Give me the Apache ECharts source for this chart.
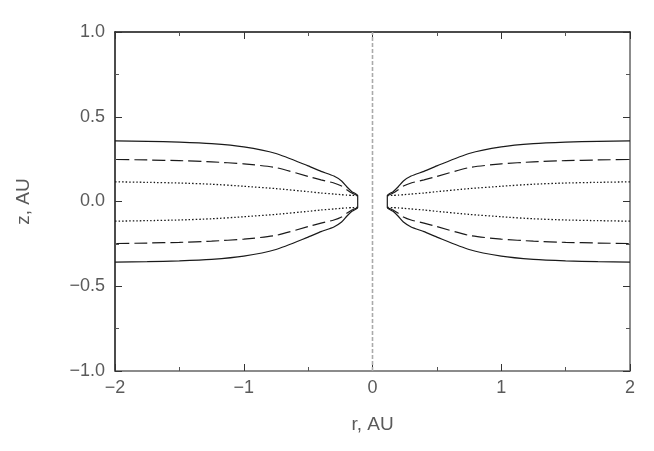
<!DOCTYPE html>
<html>
<head>
<meta charset="utf-8">
<script src="https://cdn.jsdelivr.net/npm/echarts@6/dist/echarts.min.js"></script>
<style>
  html, body { margin: 0; padding: 0; background: #fff; }
  #main { width: 654px; height: 451px; }
</style>
</head>
<body>
<div id="main"></div>
<script>
// radius grid (AU) of the disc surface profile, from the inner rim outwards
const rProfile = [0.115, 0.16, 0.2, 0.24, 0.3, 0.4, 0.5, 0.75, 1.0, 1.25, 1.5, 1.75, 2.0]
// height |z| (AU) of each contour at those radii
const zSolid  = [0.035, 0.058, 0.087, 0.121, 0.15, 0.178, 0.21, 0.283, 0.322, 0.341, 0.35, 0.355, 0.358]
const zDashed = [0.035, 0.05, 0.07, 0.091, 0.109, 0.128, 0.148, 0.2, 0.222, 0.234, 0.241, 0.245, 0.248]
const zDotted = [0.035, 0.036, 0.038, 0.04, 0.044, 0.05, 0.058, 0.076, 0.09, 0.102, 0.109, 0.113, 0.116]

const xTicks = [-2, -1, 0, 1, 2]
const yTicks = [-1.0, -0.5, 0.0, 0.5, 1.0]

const minus = s => String(s).replace('-', '\u2212')

// one branch: side = +1 / -1 for r, up = +1 / -1 for z
function branch (zs, side, up) {
  return rProfile.map((r, i) => [side * r, up * zs[i]])
}
// solid contour closes over the rim: upper branch inwards, lower branch outwards
function closed (side) {
  return branch(zSolid, side, 1).reverse().concat(branch(zSolid, side, -1))
}

const lineColor = '#1a1a1a'
const series = []
;[1, -1].forEach(side => {
  series.push({ type: 'line', data: closed(side), showSymbol: false, smooth: 0.2,
    lineStyle: { color: lineColor, width: 1.2 } })
  ;[1, -1].forEach(up => {
    series.push({ type: 'line', data: branch(zDashed, side, up), showSymbol: false, smooth: 0.2,
      lineStyle: { color: lineColor, width: 1.2, type: [13, 5] } })
    series.push({ type: 'line', data: branch(zDotted, side, up), showSymbol: false, smooth: 0.2,
      lineStyle: { color: lineColor, width: 1.3, type: [1.5, 2] } })
  })
})
// r = 0 marker
series.push({ type: 'line', data: [[0, -1], [0, 1]], showSymbol: false,
  lineStyle: { color: '#aaa', width: 1.6, type: [4, 2] } })

const labelFont = { color: '#5a5a5a', fontSize: 18, fontFamily: 'Liberation Sans' }
const nameFont = { color: '#5a5a5a', fontSize: 19, fontFamily: 'Liberation Sans' }
const tick = { inside: true, length: 7, lineStyle: { color: '#333' } }
const minor = { show: true, splitNumber: 2, length: 4, lineStyle: { color: '#555' } }

const chart = echarts.init(document.getElementById('main'))
chart.setOption({
  animation: false,
  grid: { left: 115, right: 24, top: 32, bottom: 80 },
  xAxis: [{
    type: 'value', min: xTicks[0], max: xTicks[xTicks.length - 1], interval: 1,
    name: 'r, AU', nameLocation: 'middle', nameGap: 44, nameTextStyle: nameFont,
    axisLine: { onZero: false, lineStyle: { color: '#666', width: 1.5 } },
    axisTick: tick, minorTick: minor, splitLine: { show: false },
    axisLabel: Object.assign({ margin: 8, formatter: v => minus(v) }, labelFont)
  }, {
    type: 'value', position: 'top', min: -2, max: 2, interval: 1,
    axisLine: { onZero: false, lineStyle: { color: '#111', width: 1.5 } },
    axisTick: tick, minorTick: minor, splitLine: { show: false }, axisLabel: { show: false }
  }],
  yAxis: [{
    type: 'value', min: yTicks[0], max: yTicks[yTicks.length - 1], interval: 0.5,
    name: 'z, AU', nameLocation: 'middle', nameGap: 82, nameTextStyle: nameFont,
    axisLine: { onZero: false, lineStyle: { color: '#111', width: 1.5 } },
    axisTick: tick, minorTick: minor, splitLine: { show: false },
    axisLabel: Object.assign({ margin: 10, formatter: v => minus(v.toFixed(1)) }, labelFont)
  }, {
    type: 'value', position: 'right', min: -1, max: 1, interval: 0.5,
    axisLine: { onZero: false, lineStyle: { color: '#666', width: 1.5 } },
    axisTick: tick, minorTick: minor, splitLine: { show: false }, axisLabel: { show: false }
  }],
  series: series
})
</script>
</body>
</html>
